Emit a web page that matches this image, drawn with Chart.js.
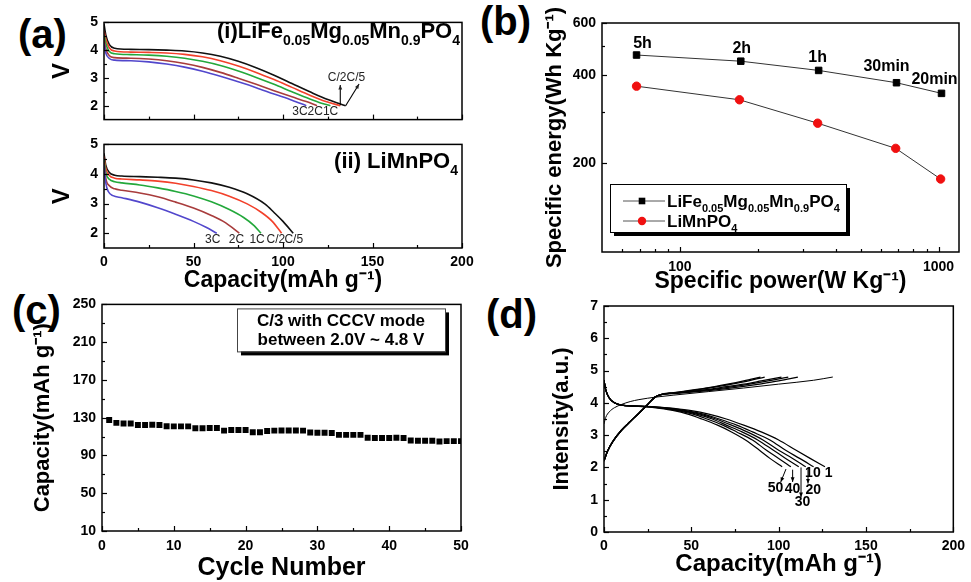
<!DOCTYPE html>
<html>
<head>
<meta charset="utf-8">
<script src="https://cdn.jsdelivr.net/npm/chart.js@4"></script>
<style>
  body { margin: 0; background: #fff; width: 971px; height: 582px; position: relative; overflow: hidden; font-family: 'Liberation Sans', Arial, sans-serif; }
  canvas { position: absolute; }
  .tag { position: absolute; font-weight: bold; font-size: 40px; line-height: 1; }
</style>
</head>
<body>
<div class="tag" style="left:18px;top:14px">(a)</div>
<div class="tag" style="left:480px;top:1px">(b)</div>
<div class="tag" style="left:12px;top:290px">(c)</div>
<div class="tag" style="left:486px;top:294px">(d)</div>
<canvas id="a1" style="left:40px;top:8px" width="440" height="126"></canvas>
<canvas id="a2" style="left:40px;top:130px" width="440" height="166"></canvas>
<canvas id="b" style="left:530px;top:5px" width="441" height="291"></canvas>
<canvas id="c" style="left:15px;top:290px" width="465" height="292"></canvas>
<canvas id="d" style="left:535px;top:290px" width="436" height="292"></canvas>
<script>
const FONT = "'Liberation Sans', Arial, sans-serif";
Chart.defaults.font.family = FONT;
Chart.defaults.color = '#000';

// (a) discharge curves, [capacity mAh/g, voltage V]
const rateNames = ['C/5', 'C/2', '1C', '2C', '3C'];
const rateColors = ['#111111', '#f2412b', '#23a83b', '#a83c3c', '#5247cc'];
const doped_C5 = [[0,4.95],[1,4.55],[3,4.2],[6,4.07],[15,4.03],[25,4.02],[35,4.0],[45,3.97],[55,3.9],[65,3.78],[75,3.6],[85,3.37],[95,3.1],[105,2.8],[115,2.5],[125,2.22],[135,2.0]];
const doped_C2 = [[0,4.7],[1,4.4],[3,4.08],[6,3.97],[15,3.93],[25,3.92],[35,3.9],[45,3.85],[55,3.76],[65,3.62],[75,3.43],[85,3.2],[95,2.94],[105,2.66],[115,2.38],[124,2.15],[132,2.0]];
const doped_1C = [[0,4.55],[1,4.25],[3,3.95],[6,3.87],[15,3.84],[25,3.82],[35,3.78],[45,3.71],[55,3.6],[65,3.45],[75,3.25],[85,3.02],[95,2.77],[105,2.5],[115,2.24],[121,2.1],[126.5,2.0]];
const doped_2C = [[0,4.4],[1,4.05],[3,3.8],[6,3.73],[15,3.71],[25,3.68],[35,3.62],[45,3.52],[55,3.38],[65,3.2],[75,2.99],[85,2.77],[95,2.54],[105,2.32],[113,2.15],[119,2.0]];
const doped_3C = [[0,4.25],[1,3.9],[3,3.7],[6,3.64],[15,3.62],[25,3.58],[35,3.5],[45,3.39],[55,3.24],[65,3.06],[75,2.86],[85,2.65],[95,2.42],[105,2.2],[113,2.0]];
const pure_C5 = [[0,4.7],[1,4.3],[3,4.05],[6,3.96],[10,3.93],[20,3.91],[30,3.89],[40,3.86],[50,3.8],[60,3.7],[70,3.55],[80,3.33],[90,2.98],[95,2.7],[100,2.4],[105.7,2.0]];
const pure_C2 = [[0,4.6],[1,4.2],[3,3.95],[6,3.86],[10,3.83],[20,3.8],[30,3.76],[40,3.69],[50,3.58],[60,3.44],[70,3.25],[80,2.99],[88,2.7],[94,2.4],[99.2,2.0]];
const pure_1C = [[0,4.5],[1,4.05],[3,3.82],[6,3.74],[10,3.7],[20,3.63],[30,3.53],[40,3.41],[50,3.26],[60,3.06],[70,2.8],[78,2.53],[84,2.25],[87.7,2.0]];
const pure_2C = [[0,4.4],[1,3.85],[3,3.6],[6,3.5],[10,3.45],[20,3.36],[30,3.23],[40,3.05],[50,2.85],[60,2.6],[68,2.35],[75.6,2.0]];
const pure_3C = [[0,4.3],[1,3.7],[2.5,3.4],[5,3.27],[10,3.2],[20,3.05],[30,2.86],[40,2.64],[50,2.4],[57,2.2],[63,2.0]];

// (b) Ragone plot
const ragoneRates = ['5h', '2h', '1h', '30min', '20min'];
const dopedPower = [68, 172, 344, 688, 1027];
const dopedEnergy = [467, 445, 414, 376, 346];
const purePower = [68, 170, 341, 683, 1019];
const pureEnergy = [366, 329, 274, 225, 177];

// (c) cycling at C/3
const cycleNo = Array.from({ length: 50 }, (_, i) => i + 1);
const cycleCap = [127.5,124.5,123.8,123.8,122.3,122.3,122.5,122.3,121,120.8,120.8,120.8,118.8,118.8,119,119,116.3,117,117,117,114.5,114.5,116,116.3,116.5,116.5,116.5,116.3,114.3,114,114,113.8,111.8,111.8,111.8,111.8,108.8,108.5,108.5,108.5,108.8,108.5,105.8,105.5,105.5,105.5,104.8,105.2,105.2,105.2];

// (d) charge / discharge profiles for selected cycles
const cycleNames = ['1', '10', '20', '30', '40', '50'];
const dis_1 = [[0,4.7],[1,4.4],[3,4.15],[6,4.0],[10,3.93],[20,3.9],[30,3.88],[40,3.83],[50,3.76],[60,3.65],[70,3.5],[80,3.31],[90,3.1],[100,2.85],[110,2.53],[118,2.28],[126.5,2.02]];
const dis_10 = [[0,4.7],[1,4.4],[3,4.15],[6,4.0],[10,3.93],[19,3.9],[28,3.88],[38,3.83],[47,3.76],[57,3.65],[66,3.5],[76,3.31],[85,3.1],[95,2.85],[104,2.53],[112,2.28],[120,2.02]];
const dis_20 = [[0,4.7],[1,4.4],[3,4.15],[6,4.0],[10,3.93],[18,3.9],[27,3.88],[36,3.83],[45,3.76],[55,3.65],[64,3.5],[73,3.31],[82,3.1],[91,2.85],[100,2.53],[108,2.28],[115.5,2.02]];
const dis_30 = [[0,4.7],[1,4.4],[3,4.15],[6,4.0],[10,3.93],[18,3.9],[26,3.88],[35,3.83],[44,3.76],[53,3.65],[62,3.5],[70,3.31],[79,3.1],[88,2.85],[97,2.53],[104,2.28],[111.5,2.02]];
const dis_40 = [[0,4.7],[1,4.4],[3,4.15],[6,4.0],[10,3.93],[17,3.9],[25,3.88],[34,3.83],[42,3.76],[51,3.65],[59,3.5],[68,3.31],[76,3.1],[85,2.85],[93,2.53],[100,2.28],[107,2.02]];
const dis_50 = [[0,4.7],[1,4.4],[3,4.15],[6,4.0],[10,3.93],[16,3.9],[24,3.88],[32,3.83],[40,3.76],[48,3.65],[56,3.5],[65,3.31],[73,3.1],[81,2.85],[89,2.53],[95,2.28],[102,2.02]];
const chg_1 = [[0,3.35],[1,3.55],[3,3.72],[6,3.85],[10,3.95],[15,4.04],[20,4.1],[30,4.18],[40,4.24],[60,4.35],[80,4.46],[100,4.58],[120,4.7],[131,4.8]];
const chg_10 = [[0,2.2],[2,2.5],[5,2.8],[10,3.15],[15,3.42],[20,3.68],[25,3.95],[29,4.17],[32,4.25],[40,4.29],[50,4.33],[60,4.38],[70,4.44],[80,4.51],[90,4.59],[100,4.68],[111,4.8]];
const chg_20 = [[0,2.2],[2,2.5],[5,2.8],[10,3.15],[15,3.42],[20,3.68],[25,3.95],[29,4.17],[32,4.25],[40,4.3],[50,4.35],[60,4.4],[70,4.47],[80,4.55],[90,4.64],[98,4.72],[105.5,4.8]];
const chg_30 = [[0,2.2],[2,2.5],[5,2.8],[10,3.15],[15,3.42],[20,3.68],[25,3.95],[29,4.17],[32,4.25],[40,4.3],[50,4.36],[60,4.42],[70,4.5],[80,4.58],[90,4.68],[101.6,4.8]];
const chg_40 = [[0,2.2],[2,2.5],[5,2.8],[10,3.15],[15,3.42],[20,3.68],[25,3.95],[29,4.17],[32,4.25],[40,4.31],[50,4.38],[60,4.46],[70,4.55],[80,4.65],[92,4.8]];
const chg_50 = [[0,2.2],[2,2.5],[5,2.8],[10,3.15],[15,3.42],[20,3.68],[25,3.95],[29,4.17],[32,4.25],[40,4.32],[50,4.39],[60,4.47],[70,4.57],[80,4.68],[89.6,4.8]];

// tick values (all drawn as inner ticks, majors get labels)
const capTicks = [0,25,50,75,100,125,150,175,200], capMajor = [0,50,100,150,200];
const voltTicks = [2,2.5,3,3.5,4,4.5,5], voltMajor = [2,3,4,5];
const powerTicks = [60,70,80,90,100,200,300,400,500,600,700,800,900,1000], powerMajor = [100,1000];
const energyTicks = [300,200,400,500,600], energyMajor = [200,400,600];
const cycTicks = [0,5,10,15,20,25,30,35,40,45,50], cycMajor = [0,10,20,30,40,50];
const capCTicks = [10,30,50,70,90,110,130,150,170,190,210,230,250], capCMajor = [10,50,90,130,170,210,250];
const intTicks = [0,0.5,1,1.5,2,2.5,3,3.5,4,4.5,5,5.5,6,6.5,7], intMajor = [0,1,2,3,4,5,6,7];

const pts = arr => arr.map(([x, y]) => ({ x, y }));

function axis(o) {
  return {
    type: o.type || 'linear',
    min: o.min, max: o.max,
    afterBuildTicks: s => { s.ticks = o.vals.map(v => ({ value: v, major: o.major.includes(v) })); },
    afterFit: s => { if (s.isHorizontal()) s.height = o.fit; else s.width = o.fit; },
    grid: { display: false, drawTicks: false },
    border: { display: false },
    ticks: {
      display: o.labels !== false, autoSkip: false, maxRotation: 0, padding: o.tickPad ?? 6,
      color: '#000', font: { size: 14, weight: 'bold' },
      callback: (v, i, ts) => ts[i].major ? String(v) : ''
    },
    title: o.title ? { display: true, text: o.title, color: '#000', font: { size: o.titleSize || 22, weight: 'bold' }, padding: o.titlePad } : { display: false }
  };
}

const frame = {
  id: 'frame',
  afterDatasetsDraw(chart) {
    const { ctx, chartArea: a } = chart;
    ctx.save();
    ctx.strokeStyle = '#000';
    ctx.lineWidth = 1.5;
    ctx.strokeRect(a.left, a.top, a.right - a.left, a.bottom - a.top);
    ctx.lineWidth = 1.2;
    for (const s of Object.values(chart.scales)) {
      for (const t of s.ticks) {
        const len = t.major ? 5 : 3;
        const p = Math.round(s.getPixelForValue(t.value)) + 0.5;
        ctx.beginPath();
        if (s.isHorizontal()) { ctx.moveTo(p, a.bottom); ctx.lineTo(p, a.bottom - len); }
        else { ctx.moveTo(a.left, p); ctx.lineTo(a.left + len, p); }
        ctx.stroke();
      }
    }
    ctx.restore();
  }
};

function rich(ctx, segs, x, y, size, sub, align) {
  const f = s => `bold ${s}px ${FONT}`;
  let w = 0;
  for (const s of segs) {
    const isSub = s[0] === '_';
    ctx.font = f(isSub ? sub : size);
    w += ctx.measureText(isSub ? s.slice(1) : s).width;
  }
  let cx = align === 'right' ? x - w : x;
  ctx.textAlign = 'left';
  ctx.textBaseline = 'alphabetic';
  for (const s of segs) {
    const isSub = s[0] === '_';
    const t = isSub ? s.slice(1) : s;
    ctx.font = f(isSub ? sub : size);
    ctx.fillText(t, cx, y + (isSub ? size * 0.3 : 0));
    cx += ctx.measureText(t).width;
  }
}

function arrow(ctx, x1, y1, x2, y2) {
  const ang = Math.atan2(y2 - y1, x2 - x1), h = 5;
  ctx.beginPath(); ctx.moveTo(x1, y1); ctx.lineTo(x2, y2); ctx.stroke();
  ctx.beginPath();
  ctx.moveTo(x2, y2);
  ctx.lineTo(x2 - h * Math.cos(ang - 0.4), y2 - h * Math.sin(ang - 0.4));
  ctx.lineTo(x2 - h * Math.cos(ang + 0.4), y2 - h * Math.sin(ang + 0.4));
  ctx.closePath(); ctx.fill();
}

function text(ctx, t, x, y, font) {
  ctx.font = font; ctx.textAlign = 'center'; ctx.textBaseline = 'middle';
  ctx.fillText(t, x, y);
}

function make(id, datasets, scales, pad, deco) {
  return new Chart(document.getElementById(id), {
    type: 'scatter',
    data: { datasets },
    options: {
      responsive: false, animation: false,
      layout: { padding: pad },
      plugins: { legend: { display: false }, tooltip: { enabled: false } },
      scales
    },
    plugins: [frame, { id: 'deco', afterDraw: c => { c.ctx.save(); c.ctx.fillStyle = '#000'; c.ctx.strokeStyle = '#000'; deco(c, c.ctx); c.ctx.restore(); } }]
  });
}

const curve = (d, color, w) => ({ data: pts(d), showLine: true, borderColor: color, borderWidth: w || 1.6, pointRadius: 0, cubicInterpolationMode: 'monotone' });
const P = (c, x, y) => [c.scales.x.getPixelForValue(x), c.scales.y.getPixelForValue(y)];

// (a)(i)
make('a1',
  [doped_3C, doped_2C, doped_1C, doped_C2, doped_C5].map((d, i) => curve(d, rateColors[4 - i])),
  {
    x: axis({ min: 0, max: 200, vals: capTicks, major: capMajor, fit: 8, labels: false }),
    y: axis({ min: 1.5, max: 5, vals: voltTicks, major: voltMajor, fit: 64, title: 'V', titleSize: 24, titlePad: { top: 8 } })
  },
  { top: 12, right: 18 },
  (c, ctx) => {
    const a = c.chartArea;
    rich(ctx, ['(i)LiFe', '_0.05', 'Mg', '_0.05', 'Mn', '_0.9', 'PO', '_4'], a.right - 2, a.top + 16, 22, 14, 'right');
    ctx.fillStyle = '#222';
    text(ctx, '3C2C1C', ...P(c, 118, 1.79), `12px ${FONT}`);
    text(ctx, 'C/2C/5', ...P(c, 135.5, 3.0), `12px ${FONT}`);
    ctx.lineWidth = 1.1;
    arrow(ctx, ...P(c, 132, 2.02), ...P(c, 132, 2.75));
    arrow(ctx, ...P(c, 135, 2.0), ...P(c, 142.5, 2.78));
  });

// (a)(ii)
make('a2',
  [pure_3C, pure_2C, pure_1C, pure_C2, pure_C5].map((d, i) => curve(d, rateColors[4 - i])),
  {
    x: axis({ min: 0, max: 200, vals: capTicks, major: capMajor, fit: 48, tickPad: 6, title: 'Capacity(mAh g⁻¹)', titleSize: 23, titlePad: { bottom: 2 } }),
    y: axis({ min: 1.5, max: 5, vals: voltTicks, major: voltMajor, fit: 64, title: 'V', titleSize: 24, titlePad: { top: 8 } })
  },
  { top: 11, right: 18 },
  (c, ctx) => {
    const a = c.chartArea;
    rich(ctx, ['(ii) LiMnPO', '_4'], a.right - 4, a.top + 24, 22, 14, 'right');
    ctx.fillStyle = '#222';
    const lx = [60.7, 74, 85.5, 96, 106];
    ['3C', '2C', '1C', 'C/2', 'C/5'].forEach((t, i) => text(ctx, t, ...P(c, lx[i], 1.79), `12px ${FONT}`));
  });

// (b)
const rateLabelOffset = [[6, -11], [1, -13], [-1, -13], [-10, -16], [-7, -14]];
make('b',
  [
    { data: dopedPower.map((x, i) => ({ x, y: dopedEnergy[i] })), showLine: true, borderColor: '#333', borderWidth: 1, pointStyle: 'rect', pointRadius: 4.6, pointBackgroundColor: '#000', pointBorderColor: '#000' },
    { data: purePower.map((x, i) => ({ x, y: pureEnergy[i] })), showLine: true, borderColor: '#333', borderWidth: 1, pointStyle: 'circle', pointRadius: 4.2, pointBackgroundColor: '#f01010', pointBorderColor: '#f01010' }
  ],
  {
    x: axis({ type: 'logarithmic', min: 50, max: 1200, vals: powerTicks, major: powerMajor, fit: 44, tickPad: 7, title: 'Specific power(W Kg⁻¹)', titleSize: 23, titlePad: { bottom: 1 } }),
    y: axis({ type: 'logarithmic', min: 100, max: 600, vals: energyTicks, major: energyMajor, fit: 72, title: 'Specific energy(Wh Kg⁻¹)', titleSize: 22, titlePad: { top: 12 } })
  },
  { top: 18, right: 12 },
  (c, ctx) => {
    const a = c.chartArea;
    ragoneRates.forEach((t, i) => {
      const [x, y] = P(c, dopedPower[i], dopedEnergy[i]);
      text(ctx, t, x + rateLabelOffset[i][0], y + rateLabelOffset[i][1], `bold 16px ${FONT}`);
    });
    // legend box with shadow
    const bx = a.left + 8, by = a.top + 161, bw = 236, bh = 48;
    ctx.fillRect(bx + 4, by + 4, bw, bh);
    ctx.fillStyle = '#fff'; ctx.fillRect(bx, by, bw, bh);
    ctx.lineWidth = 1; ctx.strokeRect(bx + 0.5, by + 0.5, bw, bh);
    const rows = [
      { y: by + 17, segs: ['LiFe', '_0.05', 'Mg', '_0.05', 'Mn', '_0.9', 'PO', '_4'], mark: 'rect', color: '#000' },
      { y: by + 37, segs: ['LiMnPO', '_4'], mark: 'circle', color: '#f01010' }
    ];
    for (const r of rows) {
      ctx.strokeStyle = '#555'; ctx.lineWidth = 1;
      ctx.beginPath(); ctx.moveTo(bx + 13, r.y); ctx.lineTo(bx + 55, r.y); ctx.stroke();
      ctx.fillStyle = r.color;
      const mx = bx + 32;
      if (r.mark === 'rect') ctx.fillRect(mx - 3.3, r.y - 3.3, 6.6, 6.6);
      else { ctx.beginPath(); ctx.arc(mx, r.y, 4.2, 0, Math.PI * 2); ctx.fill(); }
      ctx.fillStyle = '#000';
      rich(ctx, r.segs, bx + 57, r.y + 6, 17, 11, 'left');
    }
  });

// (c)
make('c',
  [{ data: cycleNo.map((x, i) => ({ x, y: cycleCap[i] })), pointStyle: 'rect', pointRadius: 4.2, pointBackgroundColor: '#000', pointBorderColor: '#000', pointBorderWidth: 0 }],
  {
    x: axis({ min: 0, max: 50, vals: cycTicks, major: cycMajor, fit: 51, tickPad: 7, title: 'Cycle Number', titleSize: 25, titlePad: { bottom: -1 } }),
    y: axis({ min: 10, max: 250, vals: capCTicks, major: capCMajor, fit: 87, title: 'Capacity(mAh g⁻¹)', titleSize: 22, titlePad: { top: 15 } })
  },
  { top: 14, right: 19 },
  (c, ctx) => {
    const a = c.chartArea;
    const bx = a.left + 135, by = a.top + 4, bw = 208, bh = 43;
    ctx.fillRect(bx + 4, by + 4, bw, bh);
    ctx.fillStyle = '#fff'; ctx.fillRect(bx, by, bw, bh);
    ctx.lineWidth = 1; ctx.strokeStyle = '#444'; ctx.strokeRect(bx + 0.5, by + 0.5, bw, bh);
    ctx.fillStyle = '#000';
    text(ctx, 'C/3 with CCCV mode', bx + bw / 2, by + 13, `bold 17px ${FONT}`);
    text(ctx, 'between 2.0V ~ 4.8 V', bx + bw / 2, by + 32, `bold 17px ${FONT}`);
  });

// (d)
const cycleLabelPos = [[128.6, 1.83], [119.6, 1.82], [119.8, 1.3], [113.6, 0.92], [107.9, 1.33], [98.2, 1.35]];
make('d',
  [
    curve(chg_1, '#000', 1), curve(chg_10, '#000', 1.3), curve(chg_20, '#000', 1.3), curve(chg_30, '#000', 1.3), curve(chg_40, '#000', 1.3), curve(chg_50, '#000', 1.3),
    curve(dis_1, '#000', 1.2), curve(dis_10, '#000', 1.2), curve(dis_20, '#000', 1.2), curve(dis_30, '#000', 1.2), curve(dis_40, '#000', 1.2), curve(dis_50, '#000', 1.2)
  ],
  {
    x: axis({ min: 0, max: 200, vals: capTicks, major: capMajor, fit: 50, tickPad: 6, title: 'Capacity(mAh g⁻¹)', titleSize: 24, titlePad: { bottom: 3 } }),
    y: axis({ min: 0, max: 7, vals: intTicks, major: intMajor, fit: 69, title: 'Intensity(a.u.)', titleSize: 22, titlePad: { top: 14 } })
  },
  { top: 16, right: 13 },
  (c, ctx) => {
    cycleNames.forEach((t, i) => text(ctx, t, ...P(c, ...cycleLabelPos[i]), `bold 14px ${FONT}`));
    ctx.lineWidth = 1;
    arrow(ctx, ...P(c, 116.8, 2.0), ...P(c, 116.8, 1.5));
    arrow(ctx, ...P(c, 112.8, 2.0), ...P(c, 112.8, 1.08));
    arrow(ctx, ...P(c, 108, 1.93), ...P(c, 108, 1.55));
    arrow(ctx, ...P(c, 104.2, 1.95), ...P(c, 101.2, 1.55));
  });
</script>
</body>
</html>
